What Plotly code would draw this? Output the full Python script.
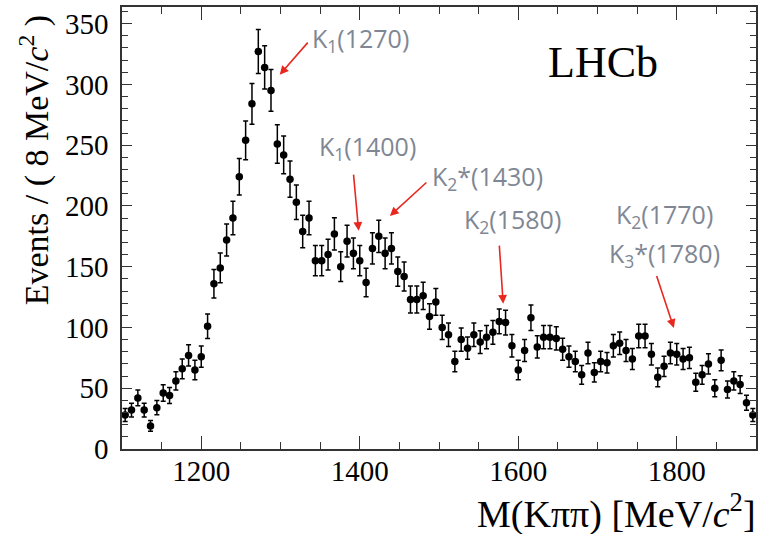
import numpy as np
import plotly.graph_objects as go

# ---- data ----
bin_width = 8.0
mass_lo = 1100.0
counts = [
    28, 32, 42, 32, 19, 34, 46, 44, 56, 66,
    77, 65, 76, 101, 136, 149, 172, 190, 224, 254,
    284, 327, 314, 295, 251, 242, 222, 203, 179, 190,
    155, 155, 160, 177, 150, 171, 161, 155, 137, 165,
    175, 161, 165, 146, 142, 123, 123, 126, 109, 121,
    100, 94, 72, 90, 83, 94, 88, 92, 96, 105,
    104, 85, 65, 81, 108, 84, 92, 92, 91, 82,
    76, 72, 61, 79, 63, 72, 71, 85, 87, 81,
    74, 93, 93, 78, 59, 68, 79, 78, 74, 75,
    55, 61, 70, 50, 73, 49, 56, 53, 38, 28,
]
centers = [mass_lo + bin_width * (i + 0.5) for i in range(len(counts))]
errors = np.sqrt(np.array(counts, dtype=float))

x_ticks = [1200, 1400, 1600, 1800]
x_tick_text = ["1200", "1400", "1600", "1800"]

# resonance labels: text, x, y
label_texts = [
    ("K<sub>1</sub>(1270)", 1401, 337),
    ("K<sub>1</sub>(1400)", 1410, 247.7),
    ("K<sub>2</sub>*(1430)", 1561, 223),
    ("K<sub>2</sub>(1580)", 1593, 187.7),
    ("K<sub>2</sub>(1770)", 1785, 191.8),
    ("K<sub>3</sub>*(1780)", 1785, 160.4),
]
# arrows: tail_x, tail_y, head_x, head_y
arrows = [
    (1336, 335.6, 1299, 308),
    (1392, 227, 1398.6, 179.5),
    (1486, 220.4, 1438, 191.8),
    (1576, 168.6, 1581, 119.5),
    (1774, 143.5, 1796.4, 99.5),
]

fig = go.Figure()
fig.add_trace(go.Scatter(
    x=centers, y=counts, mode="markers",
    marker=dict(color="black", size=7.5, symbol="circle"),
    error_y=dict(type="data", array=errors, visible=True, color="black",
                 thickness=1.5, width=2.5),
    cliponaxis=False,
    showlegend=False,
))

label_color = "#7f8794"
arrow_color = "#e8281e"
for text, tx, ty in label_texts:
    fig.add_annotation(x=tx, y=ty, xref="x", yref="y", text=text,
                       showarrow=False, xanchor="center", yanchor="middle",
                       font=dict(family="Open Sans", size=25, color=label_color))
for ax, ay, hx, hy in arrows:
    fig.add_annotation(x=hx, y=hy, ax=ax, ay=ay, xref="x", yref="y",
                       axref="x", ayref="y", text="", showarrow=True,
                       arrowhead=2, arrowsize=1.1, arrowwidth=1.6,
                       arrowcolor=arrow_color, standoff=0, startstandoff=0)

fig.add_annotation(x=0.759, y=0.874, xref="paper", yref="paper", text="LHCb",
                   showarrow=False, xanchor="center", yanchor="middle",
                   font=dict(family="Liberation Serif", size=44, color="black"))

fig.add_annotation(x=-0.138, y=0.652, xref="paper", yref="paper",
                   text="Events / ( 8 MeV/<i>c</i><sup>2</sup> )",
                   textangle=-90, showarrow=False, xanchor="center", yanchor="middle",
                   font=dict(family="Liberation Serif", size=34, color="black"))
fig.add_annotation(x=1.003, y=-0.142, xref="paper", yref="paper",
                   text="M(Kππ) [MeV/<i>c</i><sup>2</sup>]",
                   showarrow=False, xanchor="right", yanchor="middle",
                   font=dict(family="Liberation Serif", size=38, color="black"))

axis_common = dict(
    showgrid=False, zeroline=False, showline=True, linecolor="#333333",
    linewidth=1.5, mirror="ticks", ticks="inside", tickcolor="#333333",
    tickwidth=1.3,
    tickfont=dict(family="Liberation Serif", size=29, color="black"),
)
fig.update_xaxes(range=[1100, 1900], tickvals=x_ticks, ticktext=x_tick_text,
                 ticklen=13, ticklabelstandoff=-5,
                 minor=dict(dtick=50, tick0=1100, ticklen=7, ticks="inside",
                            tickcolor="#333333", tickwidth=1.3),
                 **axis_common)
fig.update_yaxes(range=[0, 363.7], tick0=0, dtick=50, ticklen=10,
                 ticklabelstandoff=6,
                 minor=dict(dtick=10, tick0=0, ticklen=6, ticks="inside",
                            tickcolor="#333333", tickwidth=1.3),
                 **axis_common)

fig.update_layout(
    width=764, height=534,
    margin=dict(l=122, r=8, t=5, b=85),
    plot_bgcolor="white", paper_bgcolor="white",
)

fig.write_html("out.html")
